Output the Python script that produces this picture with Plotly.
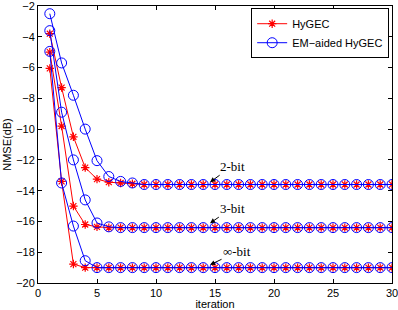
import plotly.graph_objects as go

iterations = list(range(1, 31))

hygec_2bit = [-3.8, -7.3, -10.5, -12.5, -13.25, -13.45, -13.5, -13.55] + [-13.6] * 22
em_2bit = [-2.5, -5.7, -7.8, -10.0, -12.05, -13.08, -13.4, -13.5] + [-13.6] * 22
hygec_3bit = [-5.0, -9.8, -15.0, -16.2, -16.35] + [-16.4] * 25
em_3bit = [-3.6, -8.9, -12.0, -14.6, -16.1, -16.35] + [-16.4] * 24
hygec_inf = [-6.05, -13.4, -18.77, -19.0] + [-19.0] * 26
em_inf = [-4.95, -13.5, -16.3, -18.55, -19.0] + [-19.0] * 25

x_ticks = [0, 5, 10, 15, 20, 25, 30]
y_ticks = [-20, -18, -16, -14, -12, -10, -8, -6, -4, -2]

RED = "#ff0000"
BLUE = "#0000ff"

fig = go.Figure()

red_series = [hygec_2bit, hygec_3bit, hygec_inf]
blue_series = [em_2bit, em_3bit, em_inf]

for i, ys in enumerate(red_series):
    fig.add_trace(go.Scatter(
        x=iterations, y=ys, mode="lines+markers", name="HyGEC",
        showlegend=(i == 0), legendrank=1,
        line=dict(color=RED, width=1),
        marker=dict(symbol="asterisk-open", size=7, color=RED, line=dict(color=RED, width=1.2)),
    ))
for i, ys in enumerate(blue_series):
    fig.add_trace(go.Scatter(
        x=iterations, y=ys, mode="lines+markers", name="EM\u2212aided HyGEC",
        showlegend=(i == 0), legendrank=2,
        line=dict(color=BLUE, width=1),
        marker=dict(symbol="circle-open", size=10, color=BLUE, line=dict(color=BLUE, width=1)),
    ))

ann_font = dict(family="Liberation Serif, Times New Roman, serif", size=13, color="black")
labels = [("2-bit", -13.45, 22, -16), ("3-bit", -16.11, 22, -15), ("\u221e-bit", -18.82, 27, -13)]
for text, yv, ax, ay in labels:
    fig.add_annotation(x=14.58, y=yv, text=text, showarrow=True, ax=ax, ay=ay,
                       arrowhead=2, arrowsize=1, arrowwidth=1, arrowcolor="black",
                       font=ann_font)

axis_common = dict(
    showgrid=False, zeroline=False, showline=True, linecolor="black", linewidth=1,
    mirror="ticks", ticks="inside", ticklen=4, tickcolor="black", automargin=False,
    ticklabeloverflow="allow",
    tickfont=dict(family="Liberation Sans, Arial, sans-serif", size=11, color="black"),
)

fig.update_layout(
    width=398, height=310,
    margin=dict(l=38, r=6, t=6, b=27),
    plot_bgcolor="white", paper_bgcolor="white",
    xaxis=dict(range=[0, 30], tickvals=x_ticks,
               title=dict(text="iteration", standoff=2,
                          font=dict(family="Liberation Sans, Arial, sans-serif", size=11, color="black")),
               **axis_common),
    yaxis=dict(range=[-20, -2], tickvals=y_ticks,
               title=dict(text="NMSE(dB)", standoff=2,
                          font=dict(family="Liberation Sans, Arial, sans-serif", size=11, color="black")),
               **axis_common),
    legend=dict(x=0.992, y=0.992, xanchor="right", yanchor="top",
                bgcolor="white", bordercolor="black", borderwidth=1,
                font=dict(family="Liberation Sans, Arial, sans-serif", size=11, color="black"),
                tracegroupgap=0, itemwidth=30),
    showlegend=True,
)

fig.write_html("out.html", config={"displayModeBar": False},
               post_script="document.body.style.margin='0';document.body.style.overflow='hidden';")
